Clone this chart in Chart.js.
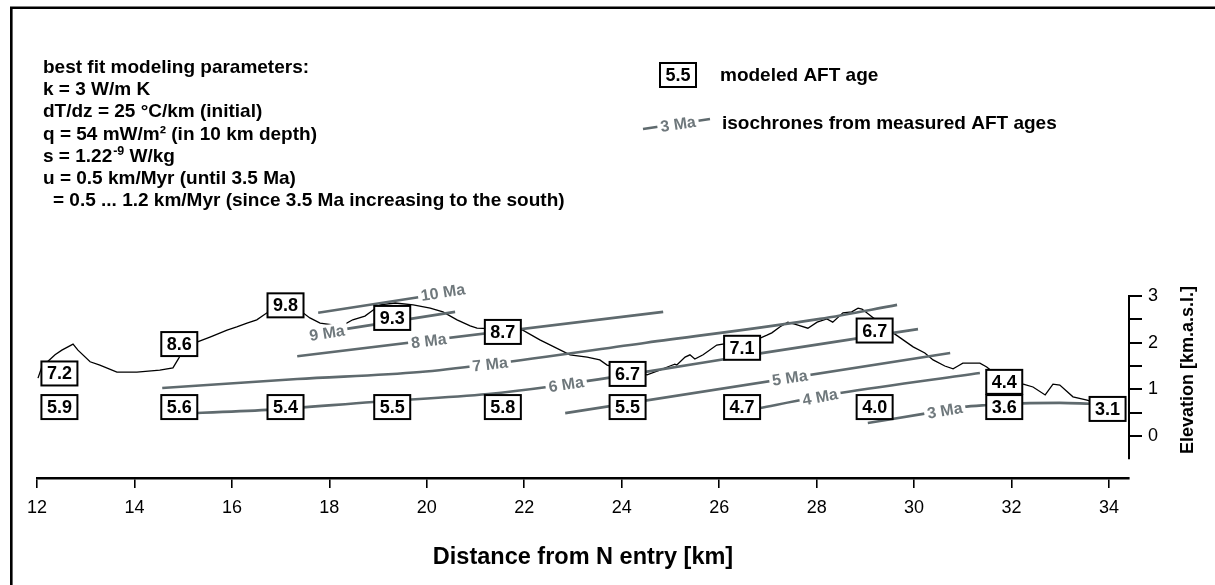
<!DOCTYPE html>
<html>
<head>
<meta charset="utf-8">
<title>AFT ages along the tunnel profile</title>
<script src="https://cdn.jsdelivr.net/npm/chart.js@4/dist/chart.umd.min.js"></script>
<style>
  html, body { margin: 0; padding: 0; background: #fff; }
  #wrap { width: 1215px; height: 585px; }
</style>
</head>
<body>
<div id="wrap"><canvas id="c" width="1215" height="585"></canvas></div>
<script>
// ---- data -------------------------------------------------------------
// topographic profile above the tunnel (distance km, elevation km a.s.l.)
const profileKm = [12.02, 12.10, 12.37, 12.51, 12.74, 12.84, 13.09, 13.29, 13.64, 14.05, 14.52, 14.79, 14.91, 15.00,
  15.28, 15.55, 15.90, 16.10, 16.31, 16.51, 16.72, 17.46, 17.60, 17.81, 18.07, 18.32, 18.48, 18.73, 18.90, 19.04,
  19.35, 19.72, 20.07, 20.33, 20.62, 20.89, 21.03, 21.97, 22.32, 22.94, 23.29, 23.55, 23.70, 24.52, 24.78, 24.99,
  25.09, 25.13, 25.30, 25.40, 25.50, 25.67, 25.95, 26.84, 26.98, 27.08, 27.25, 27.41, 27.60, 27.82, 28.01, 28.21,
  28.33, 28.54, 28.72, 28.85, 28.93, 29.14, 29.57, 29.98, 30.22, 30.39, 30.63, 30.80, 30.90, 31.00, 31.35, 31.49,
  31.62, 32.24, 32.44, 32.69, 32.85, 32.99, 33.26, 33.55, 33.61, 34.35];
const profileElev = [1.24, 1.48, 1.74, 1.84, 1.97, 1.84, 1.59, 1.52, 1.37, 1.37, 1.41, 1.46, 1.67, 1.85,
  2.01, 2.12, 2.27, 2.34, 2.42, 2.49, 2.64, 2.64, 2.53, 2.42, 2.38, 2.40, 2.49, 2.57, 2.70, 2.81,
  2.85, 2.81, 2.74, 2.66, 2.49, 2.36, 2.31, 2.27, 2.06, 1.74, 1.69, 1.63, 1.52, 1.31, 1.41, 1.50,
  1.54, 1.52, 1.69, 1.74, 1.65, 1.74, 1.95, 2.10, 2.16, 2.21, 2.34, 2.44, 2.38, 2.31, 2.44, 2.51,
  2.44, 2.64, 2.66, 2.74, 2.72, 2.55, 2.21, 1.91, 1.78, 1.63, 1.50, 1.44, 1.50, 1.56, 1.56, 1.48,
  1.37, 1.11, 1.05, 0.88, 1.11, 1.09, 0.84, 0.77, 0.75, 0.66];

// isochrones from measured AFT ages: [distance km, elevation km]
const iso10 = [[17.77, 2.64], [19.86, 2.98]];
const iso9 = [[18.32, 2.29], [20.58, 2.66]];
const iso8 = [[17.34, 1.71], [24.85, 2.66]];
const iso7 = [[14.57, 1.03], [17.34, 1.22], [19.86, 1.37], [21.30, 1.54], [24.50, 2.00], [28.07, 2.51], [29.65, 2.81]];
const iso6 = [[14.73, 0.47], [16.72, 0.56], [18.90, 0.73], [21.26, 0.90], [22.47, 1.05], [24.52, 1.38], [26.84, 1.77], [29.57, 2.21], [30.08, 2.29]];
const iso5 = [[22.84, 0.49], [30.74, 1.78]];
const iso4 = [[26.12, 0.45], [26.84, 0.60], [28.48, 0.92], [31.35, 1.35]];
const iso3 = [[29.05, 0.28], [30.28, 0.49], [31.00, 0.62], [31.45, 0.66], [32.21, 0.70], [32.99, 0.71], [33.61, 0.69]];
const isoAgesMa = [10, 9, 8, 7, 6, 5, 4, 3];
const isoLines = [iso10, iso9, iso8, iso7, iso6, iso5, iso4, iso3];
const isoLabelKm = [20.33, 17.95, 20.04, 21.30, 22.86, 27.45, 28.07, 30.63];
const isoLabelElev = [3.08, 2.21, 2.04, 1.54, 1.11, 1.25, 0.84, 0.55];

// modeled AFT ages (Ma) at the surface and along the tunnel
const surfaceKm = [12.46, 14.92, 17.10, 19.29, 21.56, 24.12, 26.47, 29.19, 31.85, 33.97];
const surfaceAge = [7.2, 8.6, 9.8, 9.3, 8.7, 6.7, 7.1, 6.7, 4.4, 3.1];
const surfaceElev = [1.34, 1.97, 2.80, 2.53, 2.23, 1.33, 1.89, 2.26, 1.16, 0.58];
const tunnelKm = [12.46, 14.92, 17.10, 19.29, 21.56, 24.12, 26.47, 29.19, 31.85];
const tunnelAge = [5.9, 5.6, 5.4, 5.5, 5.8, 5.5, 4.7, 4.0, 3.6];
const tunnelElev = 0.62;

// axis ticks
const xTickKm = [12, 14, 16, 18, 20, 22, 24, 26, 28, 30, 32, 34];
const yTickElev = [0, 0.5, 1, 1.5, 2, 2.5, 3];

// parameter block
const paramLines = [
  'best fit modeling parameters:',
  'k = 3 W/m K',
  'dT/dz = 25 °C/km (initial)',
  'q = 54 mW/m² (in 10 km depth)',
  ['s = 1.22', '-9', ' W/kg'],
  'u = 0.5 km/Myr (until 3.5 Ma)',
  '= 0.5 ... 1.2 km/Myr (since 3.5 Ma increasing to the south)'
];

// ---- styling ----------------------------------------------------------
const FONT = '"Liberation Sans", Arial, Helvetica, sans-serif';
const ISO_LINE = '#5f6a6e';
const ISO_TEXT = '#6f787c';
const TEXT_FONT = 'bold 19px ' + FONT;

const pts = arr => arr.map(p => ({ x: p[0], y: p[1] }));

const datasets = isoLines.map((line, i) => ({
  label: isoAgesMa[i] + ' Ma',
  data: pts(line),
  borderColor: ISO_LINE,
  borderWidth: 2.6,
  pointRadius: 0,
  fill: false,
  clip: false,
  cubicInterpolationMode: line.length > 2 ? 'monotone' : 'default',
  tension: 0
}));
datasets.push({
  label: 'profile',
  data: profileKm.map((x, i) => ({ x, y: profileElev[i] })),
  borderColor: '#000',
  borderWidth: 1.3,
  pointRadius: 0,
  fill: false,
  clip: false,
  tension: 0
});

// ---- plugins ------------------------------------------------------------
const framePlugin = {
  id: 'frame',
  beforeDraw(chart) {
    const c = chart.ctx;
    c.save();
    c.fillStyle = '#fff';
    c.fillRect(0, 0, chart.width, chart.height);
    c.strokeStyle = '#000';
    c.lineWidth = 2.6;
    c.beginPath();
    c.moveTo(11.3, chart.height);
    c.lineTo(11.3, 7.7);
    c.lineTo(chart.width, 7.7);
    c.stroke();
    c.restore();
  }
};

function drawAgeBox(c, cx, cy, text) {
  const w = 36, h = 24;
  c.fillStyle = '#fff';
  c.fillRect(cx - w / 2, cy - h / 2, w, h);
  c.strokeStyle = '#000';
  c.lineWidth = 2;
  c.strokeRect(cx - w / 2, cy - h / 2, w, h);
  c.fillStyle = '#000';
  c.font = 'bold 18px ' + FONT;
  c.textAlign = 'center';
  c.textBaseline = 'middle';
  c.fillText(text, cx, cy + 1);
}

function drawIsoLabel(c, x, y, angle, text) {
  c.save();
  c.translate(x, y);
  c.rotate(angle);
  c.font = 'bold 16px ' + FONT;
  const w = c.measureText(text).width + 6;
  c.fillStyle = '#fff';
  c.fillRect(-w / 2, -8, w, 16);
  c.fillStyle = ISO_TEXT;
  c.textAlign = 'center';
  c.textBaseline = 'middle';
  c.fillText(text, 0, 1);
  c.restore();
}

const isoLabelPlugin = {
  id: 'isoLabels',
  afterDatasetsDraw(chart) {
    const xs = chart.scales.x, ys = chart.scales.y, c = chart.ctx;
    c.save();
    isoLines.forEach((line, i) => {
      const lx = isoLabelKm[i];
      let k = 0;
      while (k < line.length - 2 && line[k + 1][0] < lx) k++;
      const p0 = line[k], p1 = line[k + 1];
      const ang = Math.atan2(ys.getPixelForValue(p1[1]) - ys.getPixelForValue(p0[1]),
                             xs.getPixelForValue(p1[0]) - xs.getPixelForValue(p0[0]));
      drawIsoLabel(c, xs.getPixelForValue(lx), ys.getPixelForValue(isoLabelElev[i]), ang, isoAgesMa[i] + ' Ma');
    });
    c.restore();
  }
};

const ageBoxPlugin = {
  id: 'ageBoxes',
  afterDatasetsDraw(chart) {
    const xs = chart.scales.x, ys = chart.scales.y, c = chart.ctx;
    c.save();
    surfaceKm.forEach((km, i) => {
      drawAgeBox(c, xs.getPixelForValue(km), ys.getPixelForValue(surfaceElev[i]), surfaceAge[i].toFixed(1));
    });
    tunnelKm.forEach((km, i) => {
      drawAgeBox(c, xs.getPixelForValue(km), ys.getPixelForValue(tunnelElev), tunnelAge[i].toFixed(1));
    });
    c.restore();
  }
};

const decorPlugin = {
  id: 'decor',
  afterDraw(chart) {
    const c = chart.ctx, ys = chart.scales.y, area = chart.chartArea;
    c.save();
    // elevation axis line, 3 km down to -0.5 km
    c.strokeStyle = '#000';
    c.lineWidth = 2;
    c.beginPath();
    c.moveTo(area.right, ys.getPixelForValue(3) - 1);
    c.lineTo(area.right, ys.getPixelForValue(-0.5));
    c.stroke();

    // elevation axis title
    c.save();
    c.translate(1188, 370);
    c.rotate(-Math.PI / 2);
    c.font = 'bold 18px ' + FONT;
    c.fillStyle = '#000';
    c.textAlign = 'center';
    c.textBaseline = 'middle';
    c.fillText('Elevation [km.a.s.l.]', 0, 0);
    c.restore();

    // parameter block
    c.font = TEXT_FONT;
    c.fillStyle = '#000';
    c.textAlign = 'left';
    c.textBaseline = 'alphabetic';
    paramLines.forEach((ln, i) => {
      const y = 73 + i * 22.2;
      const x = i === paramLines.length - 1 ? 53 : 43;
      if (Array.isArray(ln)) {
        c.fillText(ln[0], x, y);
        const w = c.measureText(ln[0]).width;
        c.font = 'bold 12.5px ' + FONT;
        c.fillText(ln[1], x + w + 1, y - 7);
        const w2 = c.measureText(ln[1]).width;
        c.font = TEXT_FONT;
        c.fillText(ln[2], x + w + 1 + w2, y);
      } else {
        c.fillText(ln, x, y);
      }
    });

    // key
    drawAgeBox(c, 678, 75, '5.5');
    c.font = TEXT_FONT;
    c.fillStyle = '#000';
    c.textAlign = 'left';
    c.textBaseline = 'middle';
    c.fillText('modeled AFT age', 720, 76);
    c.fillText('isochrones from measured AFT ages', 722, 124);
    c.strokeStyle = ISO_LINE;
    c.lineWidth = 2.6;
    c.beginPath();
    c.moveTo(643, 129); c.lineTo(710, 119);
    c.stroke();
    drawIsoLabel(c, 678, 124, Math.atan2(-10, 67), '3 Ma');
    c.restore();
  }
};

// ---- chart ----------------------------------------------------------------
new Chart(document.getElementById('c'), {
  type: 'line',
  data: { datasets },
  options: {
    responsive: false,
    animation: false,
    events: [],
    layout: { padding: { left: 37, top: 296, right: 0, bottom: 0 } },
    plugins: { legend: { display: false }, tooltip: { enabled: false } },
    scales: {
      x: {
        type: 'linear',
        position: 'bottom',
        min: 12,
        max: 34.41,
        afterBuildTicks: s => { s.ticks = xTickKm.map(v => ({ value: v })); },
        ticks: { font: { family: FONT, size: 18 }, color: '#000', padding: 9, maxRotation: 0, autoSkip: false },
        grid: { drawOnChartArea: false, drawTicks: true, tickLength: 10, color: '#000', lineWidth: 1.6 },
        border: { display: true, color: '#000', width: 2.6 },
        title: {
          display: true,
          text: 'Distance from N entry [km]',
          font: { family: FONT, size: 23.5, weight: 'bold' },
          color: '#000',
          padding: { top: 0, bottom: 13 }
        },
        afterFit: s => { s.height = 107; }
      },
      y: {
        type: 'linear',
        position: 'right',
        min: -0.9,
        max: 3,
        afterBuildTicks: s => { s.ticks = yTickElev.map(v => ({ value: v })); },
        ticks: {
          font: { family: FONT, size: 18 },
          color: '#000',
          padding: 6,
          autoSkip: false,
          callback: v => (Number.isInteger(v) ? String(v) : '')
        },
        grid: { drawOnChartArea: false, drawTicks: true, tickLength: 13, color: '#000', lineWidth: 2 },
        border: { display: false },
        afterFit: s => { s.width = 86; }
      }
    }
  },
  plugins: [framePlugin, isoLabelPlugin, ageBoxPlugin, decorPlugin]
});
</script>
</body>
</html>
